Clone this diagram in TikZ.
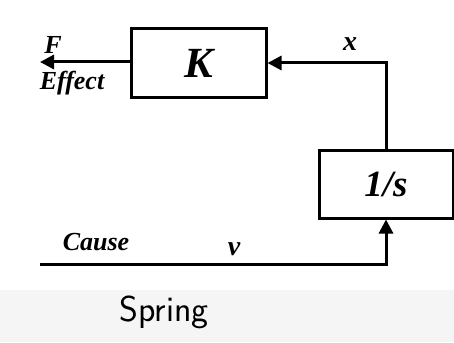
\documentclass[tikz,border=0pt]{standalone}
\usepackage{fontspec}
\setmainfont{Liberation Serif}
\usepackage{tikz}
\usetikzlibrary{positioning, arrows.meta, calc}

\tikzset{
  blockbox/.style={draw, line width=3pt, inner sep=0pt, font=\bfseries\itshape},
  sigline/.style={line width=3pt, -{Triangle[length=14pt, width=14pt]}},
  lbl/.style={font=\bfseries\itshape\fontsize{26}{28}\selectfont, inner sep=0pt}
}

\begin{document}
\begin{tikzpicture}[x=1pt, y=-1pt]
      % Page and lower band
      \useasboundingbox (0, 0) rectangle (454, 342);
      \fill[white] (0, 0) rectangle (454, 342);
      \fill[black!4] (0, 290) rectangle (454, 342);

      % Blocks
      \node[blockbox, minimum width=135pt, minimum height=68pt,
            font=\bfseries\itshape\fontsize{43}{46}\selectfont] (gain) at (198.5, 63) {K};
      \node[blockbox, minimum width=134pt, minimum height=68pt,
            font=\bfseries\itshape\fontsize{37}{40}\selectfont] (integ) at (386, 184) {1/s};

      % Free ends
      \coordinate (out) at (40, 62);
      \coordinate (in) at (40, 264);

      % Signals
      \draw[sigline] (gain.west |- out) -- (out);
      \draw[sigline] (integ.north) |- (gain.east);
      \draw[sigline] (in) -| (integ.south);

      % Labels
      \node[lbl] (force) at (53, 45) {F};
      \node[lbl] (effect) at (72, 83) {Effect};
      \node[lbl, font=\bfseries\itshape\fontsize{28}{30}\selectfont] (disp) at (350, 44) {x};
      \node[lbl] (cause) at (96, 242) {Cause};
      \node[lbl, font=\bfseries\itshape\fontsize{28}{30}\selectfont] (vel) at (234, 249) {v};
      \node[font=\sffamily\fontsize{36}{38}\selectfont, inner sep=0pt] (name) at (164, 312) {Spring};
\end{tikzpicture}
\end{document}
